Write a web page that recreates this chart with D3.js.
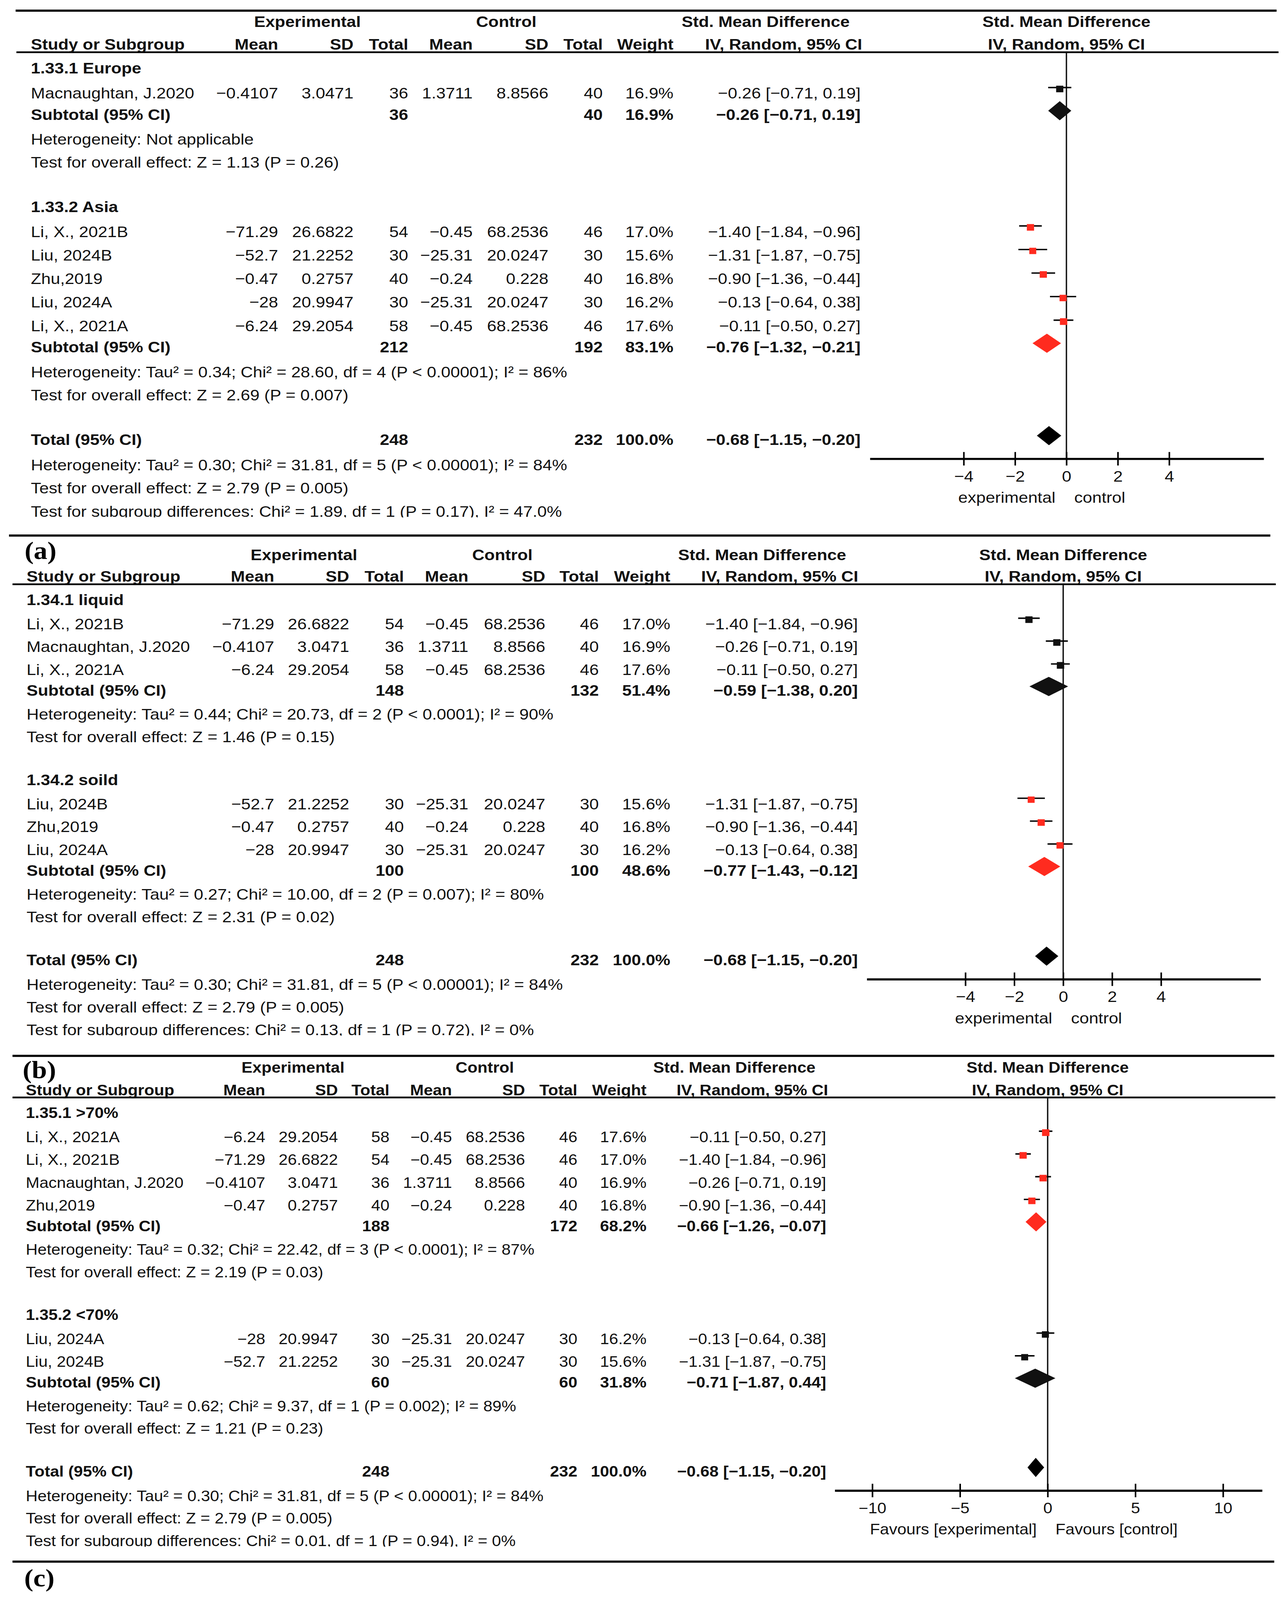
<!DOCTYPE html>
<html>
<head>
<meta charset="utf-8">
<script src="https://cdnjs.cloudflare.com/ajax/libs/d3/7.8.5/d3.min.js"></script>
<style>
  html, body { margin: 0; padding: 0; background: #fff; overflow: hidden; }
  svg { display: block; }
</style>
</head>
<body>
<div id="chart"></div>
<script>
// ---- study-level data (same six studies in every panel) ----
const studyNames = ["Macnaughtan, J.2020", "Li, X., 2021B", "Liu, 2024B", "Zhu,2019", "Liu, 2024A", "Li, X., 2021A"];
const expMean = [-0.4107, -71.29, -52.7, -0.47, -28, -6.24];
const expSD   = [3.0471, 26.6822, 21.2252, 0.2757, 20.9947, 29.2054];
const expN    = [36, 54, 30, 40, 30, 58];
const ctlMean = [1.3711, -0.45, -25.31, -0.24, -25.31, -0.45];
const ctlSD   = [8.8566, 68.2536, 20.0247, 0.228, 20.0247, 68.2536];
const ctlN    = [40, 46, 30, 40, 30, 46];
const weight  = [16.9, 17.0, 15.6, 16.8, 16.2, 17.6];
const smd     = [-0.26, -1.40, -1.31, -0.90, -0.13, -0.11];
const ciLow   = [-0.71, -1.84, -1.87, -1.36, -0.64, -0.50];
const ciHigh  = [0.19, -0.96, -0.75, -0.44, 0.38, 0.27];

// ---- pooled result (identical in all panels) ----
const overall = { expN: 248, ctlN: 232, weight: 100.0, smd: -0.68, lo: -1.15, hi: -0.20 };
const overallHet = "Heterogeneity: Tau² = 0.30; Chi² = 31.81, df = 5 (P < 0.00001); I² = 84%";
const overallTest = "Test for overall effect: Z = 2.79 (P = 0.005)";

// ---- subgroups per panel ----
const subgroupsA = [
  { title: "1.33.1 Europe", members: [0], expN: 36, ctlN: 40, weight: 16.9, smd: -0.26, lo: -0.71, hi: 0.19,
    het: "Heterogeneity: Not applicable", test: "Test for overall effect: Z = 1.13 (P = 0.26)" },
  { title: "1.33.2 Asia", members: [1, 2, 3, 4, 5], expN: 212, ctlN: 192, weight: 83.1, smd: -0.76, lo: -1.32, hi: -0.21,
    het: "Heterogeneity: Tau² = 0.34; Chi² = 28.60, df = 4 (P < 0.00001); I² = 86%", test: "Test for overall effect: Z = 2.69 (P = 0.007)" }
];
const subgroupsB = [
  { title: "1.34.1 liquid", members: [1, 0, 5], expN: 148, ctlN: 132, weight: 51.4, smd: -0.59, lo: -1.38, hi: 0.20,
    het: "Heterogeneity: Tau² = 0.44; Chi² = 20.73, df = 2 (P < 0.0001); I² = 90%", test: "Test for overall effect: Z = 1.46 (P = 0.15)" },
  { title: "1.34.2 soild", members: [2, 3, 4], expN: 100, ctlN: 100, weight: 48.6, smd: -0.77, lo: -1.43, hi: -0.12,
    het: "Heterogeneity: Tau² = 0.27; Chi² = 10.00, df = 2 (P = 0.007); I² = 80%", test: "Test for overall effect: Z = 2.31 (P = 0.02)" }
];
const subgroupsC = [
  { title: "1.35.1 >70%", members: [5, 1, 0, 3], expN: 188, ctlN: 172, weight: 68.2, smd: -0.66, lo: -1.26, hi: -0.07,
    het: "Heterogeneity: Tau² = 0.32; Chi² = 22.42, df = 3 (P < 0.0001); I² = 87%", test: "Test for overall effect: Z = 2.19 (P = 0.03)" },
  { title: "1.35.2 <70%", members: [4, 2], expN: 60, ctlN: 60, weight: 31.8, smd: -0.71, lo: -1.87, hi: 0.44,
    het: "Heterogeneity: Tau² = 0.62; Chi² = 9.37, df = 1 (P = 0.002); I² = 89%", test: "Test for overall effect: Z = 1.21 (P = 0.23)" }
];
const subgroupDiffA = "Test for subgroup differences: Chi² = 1.89, df = 1 (P = 0.17), I² = 47.0%";
const subgroupDiffB = "Test for subgroup differences: Chi² = 0.13, df = 1 (P = 0.72), I² = 0%";
const subgroupDiffC = "Test for subgroup differences: Chi² = 0.01, df = 1 (P = 0.94), I² = 0%";

const ticksAB = [-4, -2, 0, 2, 4];
const ticksC = [-10, -5, 0, 5, 10];
const favoursAB = ["experimental", "control"];
const favoursC = ["Favours [experimental]", "Favours [control]"];
const panelLabels = ["(a)", "(b)", "(c)"];

// ---- styling / layout ----
const W = 3287, H = 4505;
const INK = "#111", RED = "#ff2b1f";
const FONT = "'Liberation Sans', Arial, Helvetica, sans-serif";
const SERIF = "'Liberation Serif', 'Times New Roman', serif";

// vertical gap (px) between baselines, keyed by previous>current row type
const GAP = {
  "header>title": 59, "test>title": 122, "title>study": 69, "study>study": 65,
  "study>subtotal": 59, "subtotal>het": 68, "het>test": 64, "test>total": 123,
  "total>het": 70, "test>diff": 64
};

const panels = [
  { subgroups: subgroupsA, diff: subgroupDiffA, colors: [INK, RED], ticks: ticksAB, favours: favoursAB,
    font: 43.5, top: 30, lineL: 40, lineR: 3268, h1: 76, h2: 140, headerLine: 147, hlL: 42, hlR: 3273, vscale: 1.02,
    left: 79, cols: [712, 905, 1045, 1210, 1404, 1543], weightX: 1724, ciX: 2203,
    expC: 787, ctlC: 1296, smdC: 1960, ivC: 2006, axisRange: [2227, 3235], domain: [-7.65, 7.68] },
  { subgroups: subgroupsB, diff: subgroupDiffB, colors: [INK, RED], ticks: ticksAB, favours: favoursAB,
    font: 43.5, top: 1508, lineL: 23, lineR: 3252, h1: 1577, h2: 1638, headerLine: 1645, hlL: 32, hlR: 3266, vscale: 0.99,
    left: 68, cols: [702, 894, 1034, 1199, 1396, 1533], weightX: 1716, ciX: 2196,
    expC: 778, ctlC: 1286, smdC: 1951, ivC: 1996, axisRange: [2219, 3227], domain: [-8.03, 8.07] },
  { subgroups: subgroupsC, diff: subgroupDiffC, colors: [RED, INK], ticks: ticksC, favours: favoursC,
    font: 42, top: 2973, lineL: 32, lineR: 3262, h1: 3020, h2: 3084, headerLine: 3090, hlL: 32, hlR: 3265, vscale: 0.985,
    left: 66, cols: [679, 865, 997, 1157, 1344, 1478], weightX: 1655, ciX: 2115,
    expC: 750, ctlC: 1241, smdC: 1880, ivC: 1926, axisRange: [2137, 3231], domain: [-12.14, 12.23],
    bottomLine: 4397 }
];
const labelPos = [[63, 1574], [58, 3036], [62, 4466]];

const fmt = v => String(v).replace("-", "\u2212");
const fmt2 = v => v.toFixed(2).replace("-", "\u2212");
const ciText = (m, lo, hi) => `${fmt2(m)} [${fmt2(lo)}, ${fmt2(hi)}]`;

// The browser viewport may be shorter than the figure; stretch the drawing to fit it.
const vw = window.innerWidth || W, vh = window.innerHeight || H;
const svg = d3.select("#chart").append("svg")
  .attr("width", vw).attr("height", vh)
  .attr("viewBox", `0 0 ${W} ${H}`)
  .attr("preserveAspectRatio", "none")
  .style("background", "#fff");

function buildRows(p) {
  const rows = [];
  let y = p.headerLine, prev = "header";
  const push = (type, extra) => {
    y += GAP[prev + ">" + type] * p.vscale;
    rows.push(Object.assign({ type, y }, extra));
    prev = type;
  };
  p.subgroups.forEach((sg, k) => {
    push("title", { text: sg.title });
    sg.members.forEach(i => push("study", { i, color: p.colors[k] }));
    push("subtotal", { sg, color: p.colors[k] });
    push("het", { text: sg.het });
    push("test", { text: sg.test });
  });
  push("total", {});
  push("het", { text: overallHet });
  push("test", { text: overallTest });
  push("diff", { text: p.diff });
  return rows;
}

function renderPanel(p, idx) {
  const g = svg.append("g")
    .attr("font-family", FONT).attr("font-size", p.font).attr("fill", INK);
  const txt = (x, y, s, anchor, bold) => g.append("text")
    .attr("x", x).attr("y", y)
    .attr("text-anchor", anchor || "start")
    .attr("font-weight", bold ? "bold" : "normal")
    .text(s);
  const rule = (x1, x2, y, w) => g.append("line")
    .attr("x1", x1).attr("x2", x2).attr("y1", y).attr("y2", y)
    .attr("stroke", "#000").attr("stroke-width", w);

  const x = d3.scaleLinear().domain(p.domain).range(p.axisRange);
  const rows = buildRows(p);
  const totalRow = rows.find(r => r.type === "total");
  const axisY = totalRow.y + 39;

  // rules
  rule(p.lineL, p.lineR, p.top, 6);
  rule(p.hlL, p.hlR, p.headerLine, 5);
  if (p.bottomLine) rule(p.lineL, p.lineR, p.bottomLine, 6);

  // header
  txt(p.expC, p.h1, "Experimental", "middle", true);
  txt(p.ctlC, p.h1, "Control", "middle", true);
  txt(p.smdC, p.h1, "Std. Mean Difference", "middle", true);
  txt(x(0), p.h1, "Std. Mean Difference", "middle", true);
  txt(p.left, p.h2, "Study or Subgroup", "start", true);
  ["Mean", "SD", "Total", "Mean", "SD", "Total"].forEach((s, i) => txt(p.cols[i], p.h2, s, "end", true));
  txt(p.weightX, p.h2, "Weight", "end", true);
  txt(p.ivC, p.h2, "IV, Random, 95% CI", "middle", true);
  txt(x(0), p.h2, "IV, Random, 95% CI", "middle", true);

  // zero line
  g.append("line")
    .attr("x1", x(0)).attr("x2", x(0))
    .attr("y1", p.headerLine).attr("y2", axisY)
    .attr("stroke", "#111").attr("stroke-width", 3.5);

  const marks = g.append("g");
  const diamond = (m, lo, hi, cy, color) => marks.append("path")
    .attr("d", `M${x(lo)},${cy}L${x(m)},${cy - 27}L${x(hi)},${cy}L${x(m)},${cy + 27}Z`)
    .attr("fill", color);

  rows.forEach(r => {
    if (r.type === "title") {
      txt(p.left, r.y, r.text, "start", true);
    } else if (r.type === "study") {
      const i = r.i;
      txt(p.left, r.y, studyNames[i]);
      [expMean[i], expSD[i], expN[i], ctlMean[i], ctlSD[i], ctlN[i]]
        .forEach((v, c) => txt(p.cols[c], r.y, fmt(v), "end"));
      txt(p.weightX, r.y, weight[i].toFixed(1) + "%", "end");
      txt(p.ciX, r.y, ciText(smd[i], ciLow[i], ciHigh[i]), "end");
      const ly = r.y - 31;
      marks.append("line")
        .attr("x1", x(ciLow[i])).attr("x2", x(ciHigh[i]))
        .attr("y1", ly).attr("y2", ly)
        .attr("stroke", "#000").attr("stroke-width", 4);
      const s = 4.5 * Math.sqrt(weight[i]);
      marks.append("rect")
        .attr("x", x(smd[i]) - s / 2).attr("y", ly + 4 - s / 2)
        .attr("width", s).attr("height", s)
        .attr("fill", r.color);
    } else if (r.type === "subtotal") {
      const sg = r.sg;
      txt(p.left, r.y, "Subtotal (95% CI)", "start", true);
      txt(p.cols[2], r.y, sg.expN, "end", true);
      txt(p.cols[5], r.y, sg.ctlN, "end", true);
      txt(p.weightX, r.y, sg.weight.toFixed(1) + "%", "end", true);
      txt(p.ciX, r.y, ciText(sg.smd, sg.lo, sg.hi), "end", true);
      diamond(sg.smd, sg.lo, sg.hi, r.y - 26, r.color);
    } else if (r.type === "total") {
      txt(p.left, r.y, "Total (95% CI)", "start", true);
      txt(p.cols[2], r.y, overall.expN, "end", true);
      txt(p.cols[5], r.y, overall.ctlN, "end", true);
      txt(p.weightX, r.y, overall.weight.toFixed(1) + "%", "end", true);
      txt(p.ciX, r.y, ciText(overall.smd, overall.lo, overall.hi), "end", true);
      diamond(overall.smd, overall.lo, overall.hi, r.y - 26, "#000");
    } else if (r.type === "diff") {
      // the last line is cut just under its baseline in the source figure
      const id = `clipDiff${idx}`;
      g.append("clipPath").attr("id", id).append("rect")
        .attr("x", 0).attr("y", r.y - 60).attr("width", W / 2).attr("height", 62);
      txt(p.left, r.y, r.text).attr("clip-path", `url(#${id})`);
    } else {
      txt(p.left, r.y, r.text);
    }
  });

  // axis
  const axis = d3.axisBottom(x)
    .tickValues(p.ticks)
    .tickFormat(d3.format("d"))
    .tickSizeInner(19).tickSizeOuter(0);
  const ga = g.append("g")
    .attr("transform", `translate(0,${axisY})`)
    .call(axis)
    .attr("font-family", FONT).attr("font-size", p.font);
  ga.select(".domain").attr("stroke", "#000").attr("stroke-width", 6);
  ga.selectAll(".tick line").attr("y1", -19).attr("y2", 19).attr("stroke", "#000").attr("stroke-width", 4);
  ga.selectAll(".tick text").attr("y", 64).attr("dy", 0).attr("fill", INK);

  txt(x(0) - 28, axisY + 124, p.favours[0], "end");
  txt(x(0) + 20, axisY + 124, p.favours[1], "start");

  // panel letter
  svg.append("text")
    .attr("x", labelPos[idx][0]).attr("y", labelPos[idx][1])
    .attr("font-family", SERIF).attr("font-weight", "bold").attr("font-size", 70)
    .attr("fill", "#000")
    .text(panelLabels[idx]);
}

panels.forEach(renderPanel);
</script>
</body>
</html>
